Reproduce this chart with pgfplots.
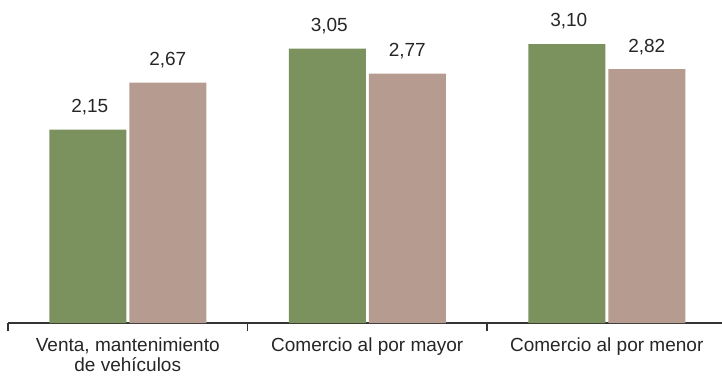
\documentclass[border=0pt]{standalone}
\usepackage{pgfplots}
\pgfplotsset{compat=1.18}
\usepackage{fontspec}
\setmainfont{Liberation Sans}
\definecolor{cgreen}{HTML}{7B925F}
\definecolor{cpink}{HTML}{B69B90}
\begin{document}
\begin{tikzpicture}
\begin{axis}[
  scale only axis, width=718.5pt, height=315pt,
  xmin=-0.5, xmax=2.5, ymin=0, ymax=3.5,
  axis x line*=bottom, axis y line=none,
  xtick={0,1,2},
  xticklabels={{Venta, mantenimiento\\[1pt]de vehículos},{Comercio al por mayor},{Comercio al por menor}},
  major tick length=0pt,
  minor xtick={-0.5,0.5,1.5,2.5}, minor tick length=8pt, tick align=outside,
  axis line style={line width=1.2pt, draw=black!80},
  minor tick style={line width=1.2pt, draw=black!80},
  xticklabel style={align=center, font=\fontsize{19}{19}\selectfont, inner sep=0pt, anchor=north, yshift=-15pt, text=black!85},
  clip=false,
]
\addplot[ybar, bar width=77pt, bar shift=-40pt, fill=cgreen, draw=none,
  nodes near coords, point meta=explicit symbolic,
  nodes near coords style={font=\fontsize{19}{20}\selectfont, anchor=base, xshift=-38pt, yshift=17pt, inner sep=0pt, text=black!85}]
  coordinates {(0,2.15) [2,15] (1,3.05) [3,05] (2,3.10) [3,10]};
\addplot[ybar, bar width=77pt, bar shift=40pt, fill=cpink, draw=none,
  nodes near coords, point meta=explicit symbolic,
  nodes near coords style={font=\fontsize{19}{20}\selectfont, anchor=base, xshift=40pt, yshift=17pt, inner sep=0pt, text=black!85}]
  coordinates {(0,2.67) [2,67] (1,2.77) [2,77] (2,2.82) [2,82]};
\end{axis}
\pgfresetboundingbox
\path[use as bounding box] (-8pt,-52pt) rectangle (714pt,323pt);
\end{tikzpicture}
\end{document}
